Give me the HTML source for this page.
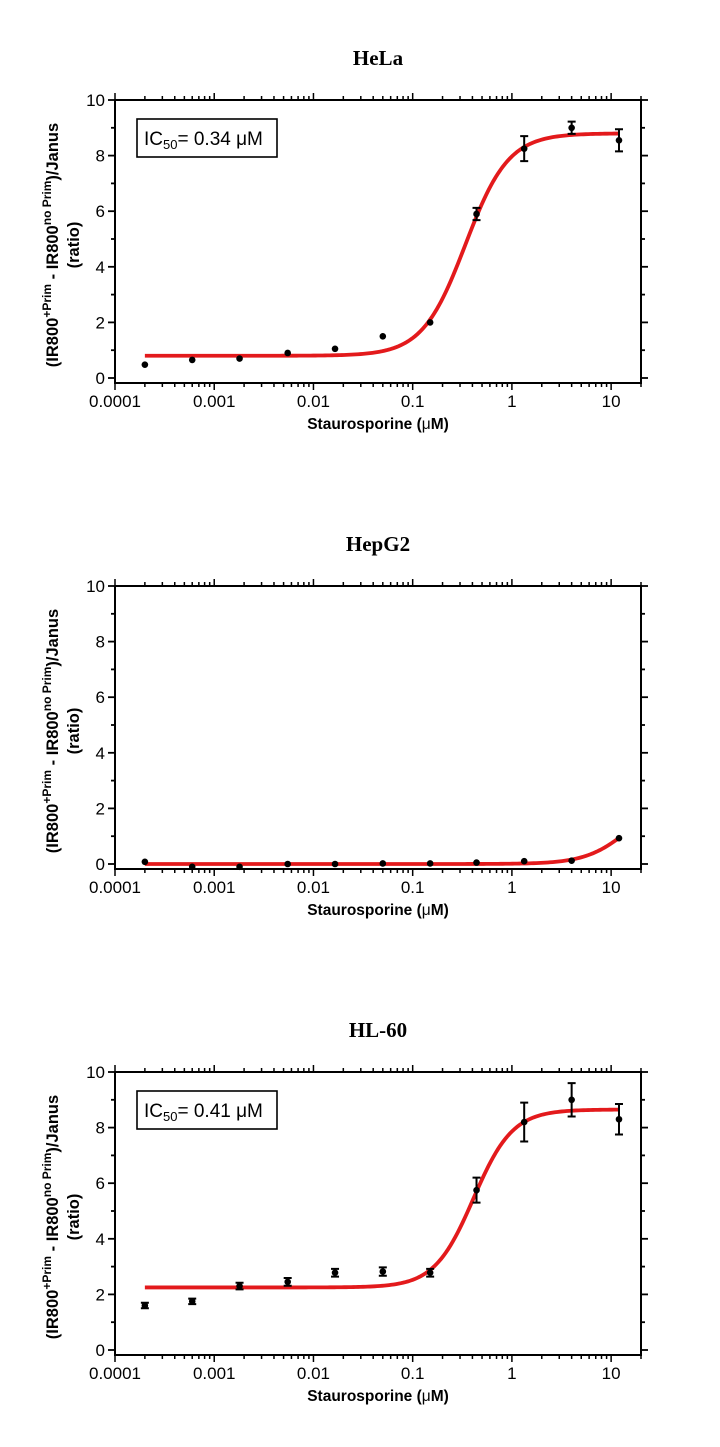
<!DOCTYPE html>
<html><head><meta charset="utf-8"><style>
body{margin:0;background:#fff;}
svg{display:block;font-family:"Liberation Sans",sans-serif;}
</style></head><body>
<svg id="c" width="720" height="1447" viewBox="0 0 720 1447"></svg>
<script>
const concentrations=[0.0002,0.0006,0.0018,0.0055,0.0165,0.05,0.15,0.44,1.33,4,12];
const helaValues=[0.48,0.65,0.7,0.9,1.05,1.5,2.0,5.9,8.25,9.0,8.55];
const helaErrors=[0,0,0,0,0,0,0,0.22,0.45,0.22,0.4];
const hepg2Values=[0.08,-0.1,-0.1,0.0,0.0,0.02,0.02,0.05,0.1,0.12,0.93];
const hepg2Errors=[0,0,0,0,0,0,0,0,0,0,0];
const hl60Values=[1.6,1.75,2.3,2.45,2.78,2.82,2.78,5.75,8.2,9.0,8.3];
const hl60Errors=[0.1,0.1,0.12,0.14,0.14,0.15,0.14,0.45,0.7,0.6,0.55];
const xTickLabels=["0.0001","0.001","0.01","0.1","1","10"];
const yTickLabels=[0,2,4,6,8,10];
const panelTitles=["HeLa","HepG2","HL-60"];
const fitBottom=[0.8,0,2.25];
const fitTop=[8.8,2.4,8.65];
const fitIC50=[0.34,15,0.41];
const fitHill=[2.0,2.0,2.2];
const ic50Labels=["0.34","",  "0.41"];

const NS="http://www.w3.org/2000/svg";
const svg=document.getElementById('c');
function mk(tag,attrs,parent){const e=document.createElementNS(NS,tag);for(const k in attrs)e.setAttribute(k,attrs[k]);(parent||svg).appendChild(e);return e;}
const L=115,R=641,XMIN=-4,XMAX=Math.log10(20);
function xs(v){return L+(Math.log10(v)-XMIN)/(XMAX-XMIN)*(R-L);}
const panels=[[helaValues,helaErrors],[hepg2Values,hepg2Errors],[hl60Values,hl60Errors]];
panels.forEach((p,i)=>{
  const y0=100+486*i;
  function ys(v){return y0+278-v*27.8;}
  const g=mk('g',{});
  
  
  const t=mk('text',{x:378,y:y0-35,'text-anchor':'middle','font-family':'"Liberation Serif",serif','font-weight':'bold','font-size':21},g);
  t.textContent=panelTitles[i];
  
  
  const B=y0+283;
  const ax=mk('path',{d:`M${L},${y0}V${B}H${R}V${y0}H${L}`,fill:'none',stroke:'#000','stroke-width':2},g);
  
  
  for(let v=0;v<=10;v++){
    const y=ys(v),len=v%2==0?7:4;
    mk('line',{x1:L-len,x2:L,y1:y,y2:y,stroke:'#000','stroke-width':1.8},g);
    mk('line',{x1:R,x2:R+len,y1:y,y2:y,stroke:'#000','stroke-width':1.8},g);
  }
  yTickLabels.forEach(v=>{
    const tl=mk('text',{x:L-10,y:ys(v)+6,'text-anchor':'end','font-size':17},g);
    tl.textContent=v;
    
    
  });
  for(let d=-4;d<=1;d++){
    for(let m=1;m<=9;m++){
      const v=m*Math.pow(10,d);if(v>20)break;
      const x=xs(v),len=m==1?7:4;
      mk('line',{x1:x,x2:x,y1:B,y2:B+len,stroke:'#000','stroke-width':1.5},g);
      mk('line',{x1:x,x2:x,y1:y0,y2:y0-len,stroke:'#000','stroke-width':1.5},g);
    }
  }
  xTickLabels.forEach((s,k)=>{
    const tl=mk('text',{x:xs(Math.pow(10,k-4)),y:B+24,'text-anchor':'middle','font-size':17},g);
    tl.textContent=s;
    
    
  });
  const xt=mk('text',{x:378,y:B+46,'text-anchor':'middle','font-size':15.5,'font-weight':'bold'},g);
  xt.innerHTML='Staurosporine (<tspan font-weight="normal">μ</tspan>M)';
  
  
  const yt=mk('text',{transform:`translate(58,${y0+145}) rotate(-90)`,'text-anchor':'middle','font-size':16.5,'font-weight':'bold'},g);
  yt.innerHTML='(IR800<tspan dy="-7" font-size="12">+Prim</tspan><tspan dy="7"> - IR800</tspan><tspan dy="-7" font-size="12">no Prim</tspan><tspan dy="7">)/Janus</tspan>';
  
  
  const yt2=mk('text',{transform:`translate(79,${y0+145}) rotate(-90)`,'text-anchor':'middle','font-size':16.5,'font-weight':'bold'},g);
  yt2.textContent='(ratio)';
  
  
  let d='';
  const a=Math.log10(concentrations[0]),b=Math.log10(concentrations[concentrations.length-1]);
  for(let k=0;k<=200;k++){
    const lx=a+(b-a)*k/200,v=Math.pow(10,lx);
    const y=fitBottom[i]+(fitTop[i]-fitBottom[i])/(1+Math.pow(fitIC50[i]/v,fitHill[i]));
    d+=(k?'L':'M')+xs(v).toFixed(2)+','+ys(y).toFixed(2);
  }
  const cv=mk('path',{d:d,fill:'none',stroke:'#e31a1c','stroke-width':3.8},g);
  
  
  concentrations.forEach((c,k)=>{
    const x=xs(c),y=ys(p[0][k]),e=p[1][k];
    if(e>0){
      const eb=mk('path',{d:`M${x},${ys(p[0][k]+e)}V${ys(p[0][k]-e)}M${x-4},${ys(p[0][k]+e)}h8M${x-4},${ys(p[0][k]-e)}h8`,stroke:'#000','stroke-width':2,fill:'none'},g);
      
      
    }
    const pt=mk('circle',{cx:x,cy:y,r:3.3,fill:'#000'},g);
    
    
  });
  if(ic50Labels[i]){
    const bx=mk('rect',{x:137,y:y0+19,width:140,height:38,fill:'#fff',stroke:'#000','stroke-width':1.6},g);
    
    
    const it=mk('text',{x:144,y:y0+45,'font-size':19},g);
    it.innerHTML='IC<tspan dy="4" font-size="13">50</tspan><tspan dy="-4">= '+ic50Labels[i]+' μM</tspan>';
    
    
  }
});
</script>
</body></html>
